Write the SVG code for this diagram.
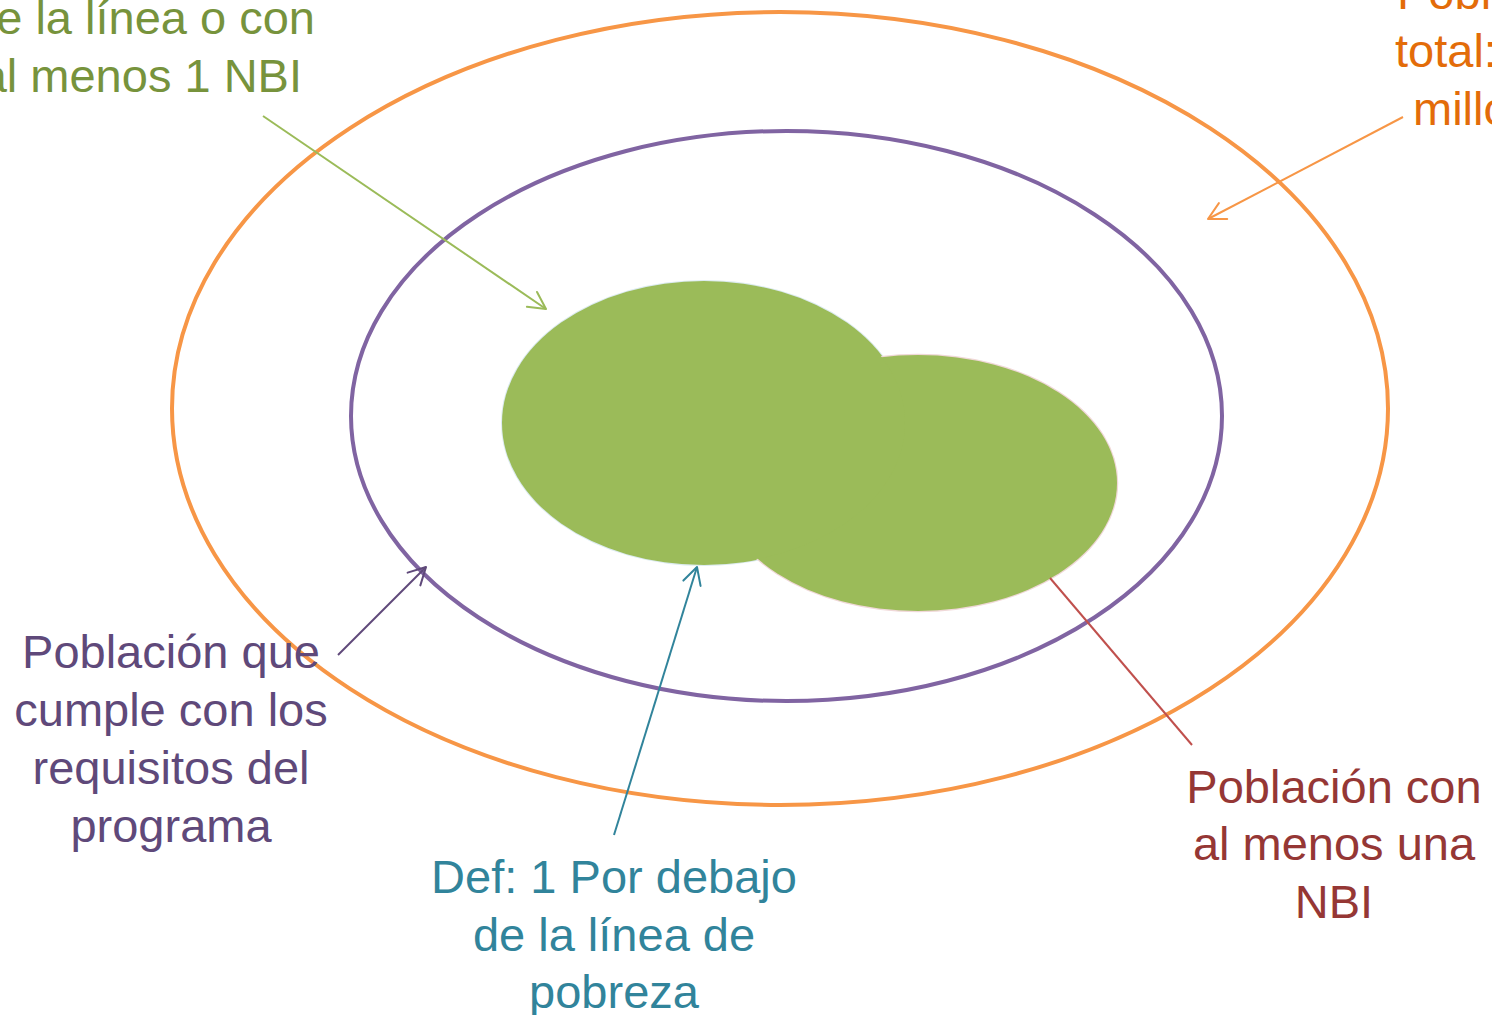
<svg xmlns="http://www.w3.org/2000/svg" width="1492" height="1015" viewBox="0 0 1492 1015">
  <style>
    text { font-family: "Liberation Sans", Arial, sans-serif; font-size: 47px; }
    .ring { fill: none; stroke-width: 4; }
    .conn { fill: none; stroke-width: 2; }
    .mk { fill: none; stroke-width: 2; stroke-linecap: round; stroke-linejoin: round; }
    .blob { fill: #9BBB59; }
  </style>
  <defs>
    <marker id="aGreen" markerUnits="userSpaceOnUse" markerWidth="24" markerHeight="24" viewBox="-20 -12 24 24" refX="0" refY="0" orient="auto" overflow="visible">
      <path class="mk" d="M-17,-9 L0,0 L-17,9" stroke="#9BBB59"/>
    </marker>
    <marker id="aOrange" markerUnits="userSpaceOnUse" markerWidth="24" markerHeight="24" viewBox="-20 -12 24 24" refX="0" refY="0" orient="auto" overflow="visible">
      <path class="mk" d="M-17,-9 L0,0 L-17,9" stroke="#F79646"/>
    </marker>
    <marker id="aPurple" markerUnits="userSpaceOnUse" markerWidth="24" markerHeight="24" viewBox="-20 -12 24 24" refX="0" refY="0" orient="auto" overflow="visible">
      <path class="mk" d="M-17,-9 L0,0 L-17,9" stroke="#5F497A"/>
    </marker>
    <marker id="aTeal" markerUnits="userSpaceOnUse" markerWidth="24" markerHeight="24" viewBox="-20 -12 24 24" refX="0" refY="0" orient="auto" overflow="visible">
      <path class="mk" d="M-17,-9 L0,0 L-17,9" stroke="#31849B"/>
    </marker>
  </defs>
  <rect width="1492" height="1015" fill="#FFFFFF"/>

  <g id="total-population">
    <ellipse class="ring" cx="780" cy="408.5" rx="608" ry="396.5" stroke="#F79646"/>
  </g>
  <g id="program-requirements">
    <ellipse class="ring" cx="786.5" cy="416" rx="435.5" ry="285" stroke="#8064A2"/>
  </g>
  <g id="poverty-line">
    <ellipse cx="704" cy="423" rx="202" ry="142" fill="none" stroke="#DCEBF0" stroke-width="2"/>
    <ellipse class="blob" cx="704" cy="423" rx="202" ry="142"/>
  </g>
  <g id="nbi">
    <ellipse cx="918" cy="483" rx="199" ry="128" fill="none" stroke="#F0D8D8" stroke-width="2.5"/>
    <ellipse class="blob" cx="918" cy="483" rx="199" ry="128"/>
    <ellipse class="blob" cx="704" cy="423" rx="201" ry="141" clip-path="none"/>
  </g>

  <g id="connectors">
    <line class="conn" x1="263" y1="116" x2="546" y2="309" stroke="#9BBB59" marker-end="url(#aGreen)"/>
    <line class="conn" x1="1403" y1="117" x2="1208" y2="219" stroke="#F79646" marker-end="url(#aOrange)"/>
    <line class="conn" x1="338" y1="655" x2="426" y2="567" stroke="#5F497A" marker-end="url(#aPurple)"/>
    <line class="conn" x1="614" y1="835" x2="697" y2="567" stroke="#31849B" marker-end="url(#aTeal)"/>
    <line class="conn" x1="1050" y1="578" x2="1192" y2="745" stroke="#C0504D"/>
  </g>

  <g id="label-green">
    <text x="315" y="34" text-anchor="end" fill="#77933C">e la línea o con</text>
    <text x="302" y="92" text-anchor="end" fill="#77933C">al menos 1 NBI</text>
  </g>
  <g id="label-orange">
    <text x="1397" y="9" fill="#E36C09">Pobl</text>
    <text x="1395" y="67" fill="#E36C09">total:</text>
    <text x="1413" y="125" fill="#E36C09">millo</text>
  </g>
  <g id="label-purple" text-anchor="middle" fill="#5F497A">
    <text x="171" y="668">Población que</text>
    <text x="171" y="726">cumple con los</text>
    <text x="171" y="784">requisitos del</text>
    <text x="171" y="842">programa</text>
  </g>
  <g id="label-teal" text-anchor="middle" fill="#31849B">
    <text x="614" y="893">Def: 1 Por debajo</text>
    <text x="614" y="951">de la línea de</text>
    <text x="614" y="1008">pobreza</text>
  </g>
  <g id="label-red" text-anchor="middle" fill="#953735">
    <text x="1334" y="803">Población con</text>
    <text x="1334" y="860">al menos una</text>
    <text x="1334" y="918">NBI</text>
  </g>
</svg>
